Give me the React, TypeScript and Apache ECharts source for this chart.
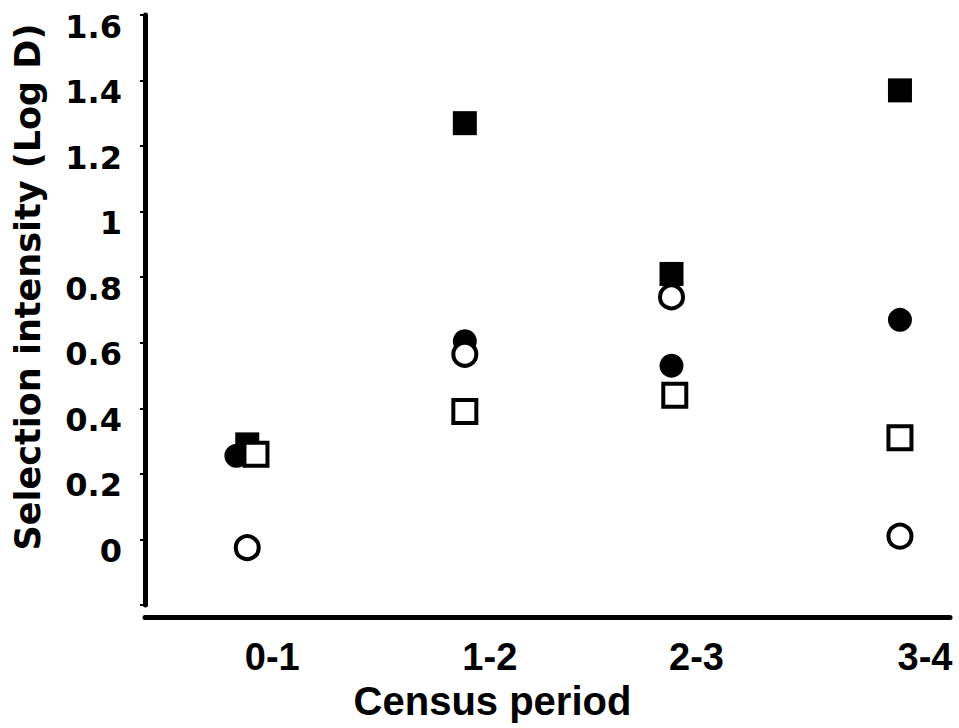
import React, { useEffect, useRef } from "react";
import * as echarts from "echarts";

const periods = ["0-1", "1-2", "2-3", "3-4"];
const periodX = [0, 1, 1.95, 3];

const filledSquare = [0.29, 1.27, 0.81, 1.37];
const filledSquareJitter = [0, 0, 0, 0];
const filledCircle = [0.255, 0.605, 0.53, 0.67];
const filledCircleJitter = [-0.05, 0, 0, 0];
const openCircle = [-0.025, 0.565, 0.74, 0.01];
const openCircleJitter = [0, 0, 0, 0];
const openSquare = [0.26, 0.39, 0.44, 0.31];
const openSquareJitter = [0.04, 0, 0.015, 0];

const yTicks = [0, 0.2, 0.4, 0.6, 0.8, 1, 1.2, 1.4, 1.6];

function pts(vals: number[], jit: number[]) {
  return vals.map((v, i) => [periodX[i] + jit[i], v]);
}

export default function App() {
  const ref = useRef<HTMLDivElement>(null);
  useEffect(() => {
    if (!ref.current) return;
    const chart = echarts.init(ref.current, null, { renderer: "svg" });
    const filled = { color: "#000", opacity: 1 };
    const open = { color: "#fff", borderColor: "#000", borderWidth: 4, opacity: 1 };
    chart.setOption({
      animation: false,
      backgroundColor: "#fff",
      grid: { left: 145, right: 9, top: 15, bottom: 123, containLabel: false },
      xAxis: {
        type: "value",
        min: -0.47,
        max: 3.23,
        offset: 12,
        splitLine: { show: false },
        axisTick: { show: false },
        axisLine: { show: true, onZero: false, lineStyle: { color: "#000", width: 5 } },
        axisLabel: {
          customValues: periodX,
          formatter: (v: number) => {
            let best = 0;
            periodX.forEach((p, i) => {
              if (Math.abs(p - v) < Math.abs(periodX[best] - v)) best = i;
            });
            return periods[best];
          },
          margin: 21,
          padding: [0, 0, 0, 50],
          color: "#000",
          fontFamily: "Liberation Sans",
          fontWeight: "bold",
          fontSize: 38,
        },
        name: "Census period",
        nameLocation: "middle",
        nameGap: 57,
        nameTextStyle: {
          color: "#000",
          fontFamily: "Liberation Sans",
          fontWeight: "bold",
          fontSize: 40,
          padding: [0, 110, 0, 0],
        },
      },
      yAxis: {
        type: "value",
        min: -0.2,
        max: 1.6,
        interval: 0.2,
        splitLine: { show: false },
        axisLine: { show: true, onZero: false, lineStyle: { color: "#000", width: 5 } },
        axisTick: { show: true, length: 5, lineStyle: { color: "#000", width: 2 } },
        axisLabel: {
          margin: 23,
          verticalAlign: "top",
          lineHeight: 23,
          color: "#000",
          fontFamily: "DejaVu Sans",
          fontWeight: "bold",
          fontSize: 32,
          formatter: (v: number) => {
            const match = yTicks.find((t) => Math.abs(t - v) < 1e-6);
            return match === undefined ? "" : String(match);
          },
        },
        name: "Selection intensity (Log D)",
        nameLocation: "middle",
        nameGap: 100,
        nameTextStyle: {
          color: "#000",
          fontFamily: "DejaVu Sans",
          fontWeight: "bold",
          fontSize: 35,
          padding: [0, 0, 0, 46],
        },
      },
      series: [
        { type: "scatter", symbol: "rect", symbolSize: 24, itemStyle: filled, data: pts(filledSquare, filledSquareJitter) },
        { type: "scatter", symbol: "circle", symbolSize: 24, itemStyle: filled, data: pts(filledCircle, filledCircleJitter) },
        { type: "scatter", symbol: "circle", symbolSize: 23, itemStyle: open, data: pts(openCircle, openCircleJitter) },
        { type: "scatter", symbol: "rect", symbolSize: 23, itemStyle: open, data: pts(openSquare, openSquareJitter) },
      ],
    });
    return () => chart.dispose();
  }, []);
  return (
    <div
      ref={ref}
      style={{ position: "fixed", left: 0, top: 0, width: 959, height: 728, background: "#fff" }}
    />
  );
}
